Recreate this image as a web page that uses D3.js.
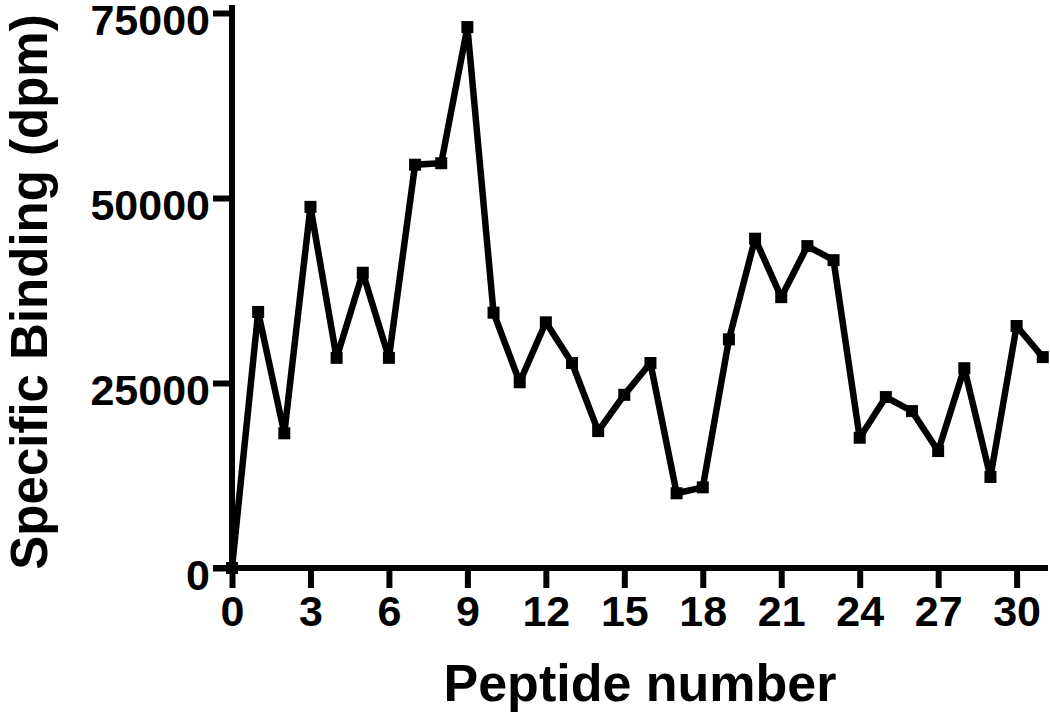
<!DOCTYPE html>
<html>
<head>
<meta charset="utf-8">
<script src="https://cdn.jsdelivr.net/npm/d3@7"></script>
<style>
  html, body { margin: 0; padding: 0; background: #fff; }
  svg { display: block; }
  text { font-family: "Liberation Sans", Arial, Helvetica, sans-serif; font-weight: bold; fill: #000; }
</style>
</head>
<body>
<svg id="chart" width="1050" height="712"></svg>
<script>
const peptides = [0,1,2,3,4,5,6,7,8,9,10,11,12,13,14,15,16,17,18,19,20,21,22,23,24,25,26,27,28,29,30,31];
const binding = [0,34600,18200,48800,28400,39900,28400,54500,54700,73100,34500,25100,33200,27700,18500,23400,27700,10100,10900,30900,44500,36600,43500,41600,17600,23100,21200,15800,27000,12300,32700,28500];
const xTicks = [0,3,6,9,12,15,18,21,24,27,30];
const yTicks = [0,25000,50000,75000];
const xTitle = "Peptide number";
const yTitle = "Specific Binding (dpm)";

const svg = d3.select("#chart");
const x = d3.scaleLinear().domain([0, 31.2]).range([232, 1048]);
const y = d3.scaleLinear().domain([0, 75000]).range([568, 13]);

const SW = 6;

// Y axis
const yAxis = svg.append("g").attr("transform", `translate(${x(0)},0)`)
  .call(d3.axisLeft(y).tickValues(yTicks).tickSize(19).tickPadding(3).tickFormat(d3.format("d")));
yAxis.select(".domain").attr("d", `M0,${y(0)}V${y(75000) - 5}`)
  .attr("stroke", "#000").attr("stroke-width", SW).attr("stroke-linecap", "square");
yAxis.selectAll(".tick line").attr("stroke", "#000").attr("stroke-width", SW);
yAxis.selectAll(".tick text").attr("font-size", 43).attr("dy", "0.5em")
  .style("font-family", '"Liberation Sans", Arial, sans-serif').style("font-weight", "bold");

// X axis
const xAxis = svg.append("g").attr("transform", `translate(0,${y(0)})`)
  .call(d3.axisBottom(x).tickValues(xTicks).tickSize(20).tickPadding(8));
xAxis.select(".domain").attr("d", `M${x(0) - 19},0H${x(31.2)}`)
  .attr("stroke", "#000").attr("stroke-width", SW);
xAxis.selectAll(".tick line").attr("stroke", "#000").attr("stroke-width", SW);
xAxis.selectAll(".tick text").attr("font-size", 43).attr("dy", "0.7em")
  .style("font-family", '"Liberation Sans", Arial, sans-serif').style("font-weight", "bold");

// Line
const line = d3.line().x((d, i) => x(peptides[i])).y(d => y(d));
svg.append("path").datum(binding)
  .attr("d", line).attr("fill", "none").attr("stroke", "#000")
  .attr("stroke-width", 6.5).attr("stroke-linejoin", "miter").attr("stroke-miterlimit", 2);

// Markers
const MS = 12;
svg.append("g").selectAll("rect").data(binding).join("rect")
  .attr("x", (d, i) => x(peptides[i]) - MS / 2)
  .attr("y", d => y(d) - MS / 2)
  .attr("width", MS).attr("height", MS).attr("fill", "#000");

// Titles
svg.append("text").attr("x", 640).attr("y", 701).attr("text-anchor", "middle")
  .attr("font-size", 52).text(xTitle);
svg.append("text").attr("transform", "translate(47,292) rotate(-90)")
  .attr("text-anchor", "middle").attr("font-size", 51).text(yTitle);
</script>
</body>
</html>
